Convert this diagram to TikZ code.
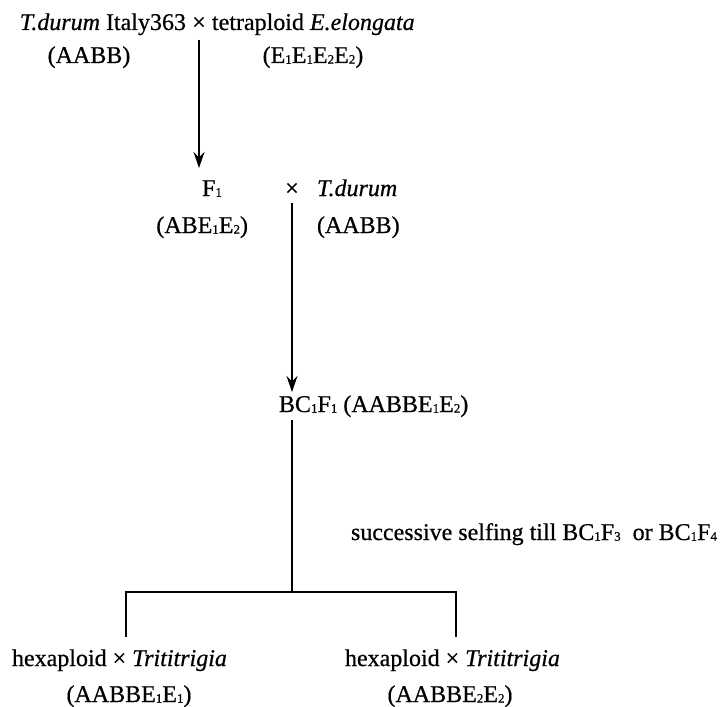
\documentclass[tikz,border=0pt]{standalone}
\usepackage{fontspec}
\setmainfont{Liberation Serif}[FakeBold=0.6]
\usetikzlibrary{arrows.meta}
\newcommand{\lowidx}[1]{\raisebox{-0.03em}{\fontsize{13}{13}\selectfont #1}}
\tikzset{
  txt/.style={inner sep=0pt, outer sep=0pt, font=\fontsize{24}{26}\selectfont},
  conn/.style={line width=1.4pt},
  arr/.style={conn, -{Stealth[length=16pt,width=11pt]}}
}
\begin{document}
\begin{tikzpicture}[x=1pt,y=-1pt]
\useasboundingbox (0,0) rectangle (727,706);
% generation 0
\node[txt, anchor=base east] (p1) at (186,30) {\textit{T.durum} Italy363};
\node[txt, anchor=base] (x1) at (199,30) {×};
\node[txt, anchor=base west] (p2) at (212,30) {tetraploid \textit{E.elongata}};
\node[txt, anchor=base] (g1) at (89,63) {(AABB)};
\node[txt, anchor=base] (g2) at (313,63) {(E\lowidx1E\lowidx1E\lowidx2E\lowidx2)};
% F1
\node[txt, anchor=base] (f1) at (212,196) {F\lowidx1};
\node[txt, anchor=base] (x2) at (292,196) {×};
\node[txt, anchor=base west] (td) at (317,196) {\textit{T.durum}};
\node[txt, anchor=base east] (g3) at (248,233) {(ABE\lowidx1E\lowidx2)};
\node[txt, anchor=base west] (g4) at (317,233) {(AABB)};
% BC1F1
\node[txt, anchor=base west] (bc) at (279,412) {BC\lowidx1F\lowidx1 (AABBE\lowidx1E\lowidx2)};
\node[txt, anchor=base west] (sel) at (351,540) {successive selfing till BC\lowidx1F\lowidx3\ \ or BC\lowidx1F\lowidx4};
% split
\coordinate (bcs) at (292,420);
\coordinate (j) at (292,592);
\coordinate (jl) at (126,592);
\coordinate (jr) at (456,592);
\coordinate (el) at (126,637);
\coordinate (er) at (456,637);
\node[txt, anchor=base west] (h1) at (12,666) {hexaploid × \textit{Trititrigia}};
\node[txt, anchor=base west] (h2) at (345,666) {hexaploid × \textit{Trititrigia}};
\node[txt, anchor=base] (g5) at (129,702) {(AABBE\lowidx1E\lowidx1)};
\node[txt, anchor=base] (g6) at (450,702) {(AABBE\lowidx2E\lowidx2)};
% connectors
\coordinate (a1s) at (199,40);
\coordinate (a1e) at (199,168);
\draw[arr] (a1s) -- (a1e);
\coordinate (a2s) at (292,203);
\coordinate (a2e) at (292,392);
\draw[arr] (a2s) -- (a2e);
\draw[conn] (bcs) -- (j);
\draw[conn] (el) -- (jl) -- (jr) -- (er);
\end{tikzpicture}
\end{document}
